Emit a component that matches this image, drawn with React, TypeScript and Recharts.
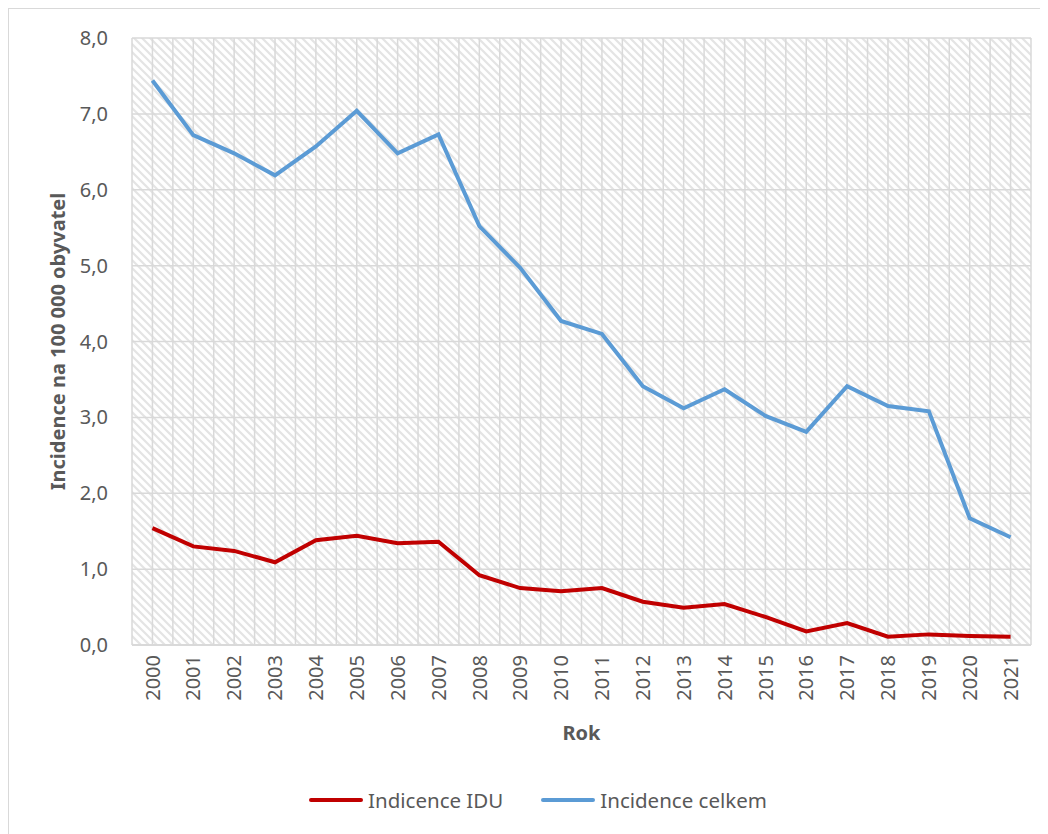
import React from 'react';
import { LineChart, Line, XAxis, YAxis, CartesianGrid, Legend } from 'recharts';

const years = [
  2000, 2001, 2002, 2003, 2004, 2005, 2006, 2007, 2008, 2009, 2010,
  2011, 2012, 2013, 2014, 2015, 2016, 2017, 2018, 2019, 2020, 2021,
];
const incidenceIdu = [
  1.54, 1.3, 1.24, 1.09, 1.38, 1.44, 1.34, 1.36, 0.92, 0.75, 0.71,
  0.75, 0.57, 0.49, 0.54, 0.37, 0.18, 0.29, 0.11, 0.14, 0.12, 0.11,
];
const incidenceCelkem = [
  7.44, 6.72, 6.48, 6.19, 6.57, 7.04, 6.48, 6.73, 5.52, 4.97, 4.27,
  4.1, 3.41, 3.12, 3.37, 3.02, 2.81, 3.41, 3.15, 3.08, 1.67, 1.42,
];
const yTicks = [0, 1, 2, 3, 4, 5, 6, 7, 8];

const data = years.map((year, i) => ({
  year,
  idu: incidenceIdu[i],
  celkem: incidenceCelkem[i],
}));

const FONT = '"Noto Sans", sans-serif';
const TEXT = '#595959';
const GRID = '#d9d9d9';

const YearTick = (props: any) => {
  const { x, y, payload } = props;
  return (
    <text
      x={x}
      y={y}
      dy="0.36em"
      transform={`rotate(-90, ${x}, ${y})`}
      textAnchor="end"
      fill={TEXT}
      fontSize={20}
      fontFamily={FONT}
    >
      {payload.value}
    </text>
  );
};

const YTitle = (props: any) => {
  const { viewBox } = props;
  const cx = viewBox.x + 49;
  const cy = viewBox.y + viewBox.height / 2;
  return (
    <text
      x={cx}
      y={cy}
      dy="0.36em"
      transform={`rotate(-90, ${cx}, ${cy})`}
      textAnchor="middle"
      fill={TEXT}
      fontSize={20}
      fontWeight="bold"
      fontFamily={FONT}
    >
      Incidence na 100 000 obyvatel
    </text>
  );
};

const XTitle = (props: any) => {
  const { viewBox } = props;
  return (
    <text
      x={viewBox.x + viewBox.width / 2}
      y={viewBox.y + 88}
      dy="0.36em"
      textAnchor="middle"
      fill={TEXT}
      fontSize={20}
      fontWeight="bold"
      fontFamily={FONT}
    >
      Rok
    </text>
  );
};

const legendItems = [
  { label: 'Indicence IDU', color: '#C00000' },
  { label: 'Incidence celkem', color: '#5B9BD5' },
];

const LegendContent = () => (
  <div
    style={{
      display: 'flex',
      justifyContent: 'center',
      alignItems: 'center',
      height: 30,
      paddingLeft: 36,
      gap: 38,
      fontFamily: FONT,
      fontSize: 20.5,
      color: TEXT,
    }}
  >
    {legendItems.map((item) => (
      <div key={item.label} style={{ display: 'flex', alignItems: 'center' }}>
        <span
          style={{
            display: 'inline-block',
            width: 54,
            height: 4,
            borderRadius: 2,
            background: item.color,
            marginRight: 5,
          }}
        />
        {item.label}
      </div>
    ))}
  </div>
);

export default function App() {
  return (
    <div
      style={{
        width: 1038,
        height: 840,
        border: `1px solid ${GRID}`,
        boxSizing: 'border-box',
        background: '#fff',
      }}
    >
      <LineChart
        width={1036}
        height={830}
        data={data}
        margin={{ top: 29, right: 14, left: 0, bottom: 24 }}
      >
        <defs>
          <pattern id="hatch" width="8" height="8" patternUnits="userSpaceOnUse">
            <rect width="8" height="8" fill="#ffffff" />
            <path d="M-2,-2 L10,10 M-2,6 L2,10 M6,-2 L10,2" stroke="#e4e4e4" strokeWidth={2.2} />
          </pattern>
        </defs>
        <CartesianGrid
          fill="url(#hatch)"
          stroke={GRID}
          strokeWidth={1.5}
          verticalCoordinatesGenerator={({ offset }: any) =>
            Array.from({ length: years.length * 2 + 1 }, (_, i) => offset.left + (offset.width * i) / (years.length * 2))
          }
        />
        <XAxis
          dataKey="year"
          type="number"
          domain={[years[0] - 0.5, years[years.length - 1] + 0.5]}
          ticks={years}
          interval={0}
          height={140}
          tickLine={false}
          axisLine={{ stroke: GRID, strokeWidth: 2 }}
          tickSize={0}
          tickMargin={10}
          tick={<YearTick />}
          label={{ content: <XTitle /> }}
        />
        <YAxis
          domain={[0, 8]}
          ticks={yTicks}
          width={123}
          tickLine={false}
          axisLine={false}
          tickSize={0}
          tickMargin={24}
          tickFormatter={(v: number) => v.toFixed(1).replace('.', ',')}
          tick={{ fill: TEXT, fontSize: 20, fontFamily: FONT }}
          label={{ content: <YTitle /> }}
        />
        <Legend verticalAlign="bottom" height={30} content={<LegendContent />} />
        <Line
          dataKey="idu"
          name="Indicence IDU"
          stroke="#C00000"
          strokeWidth={4}
          dot={false}
          isAnimationActive={false}
        />
        <Line
          dataKey="celkem"
          name="Incidence celkem"
          stroke="#5B9BD5"
          strokeWidth={4}
          dot={false}
          isAnimationActive={false}
        />
      </LineChart>
    </div>
  );
}
